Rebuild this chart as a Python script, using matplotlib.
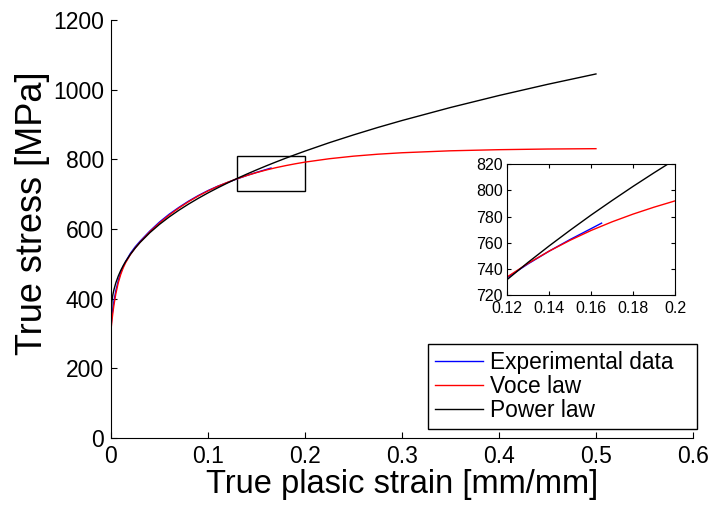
import matplotlib
matplotlib.use('Agg')
import matplotlib.pyplot as plt
from matplotlib.patches import Rectangle

plt.rcParams['font.family'] = ['Liberation Sans', 'DejaVu Sans']

# true plastic strain [mm/mm]
strain = [0, 0.001, 0.002, 0.003, 0.005, 0.0075, 0.01, 0.0125, 0.015, 0.02,
          0.025, 0.03, 0.04, 0.05, 0.06, 0.07, 0.08, 0.09, 0.10, 0.11,
          0.12, 0.13, 0.14, 0.15, 0.16, 0.17, 0.18, 0.19, 0.20, 0.225,
          0.25, 0.275, 0.30, 0.35, 0.40, 0.45, 0.50]

voce_stress = [310, 337.0, 360.4, 380.7, 414.1, 445.5, 469.1, 487.7, 502.7, 526.6,
               545.7, 562.4, 591.8, 617.2, 640.0, 660.3, 678.5, 694.8, 709.3, 722.3,
               733.9, 744.3, 753.6, 761.9, 769.4, 776.0, 781.9, 787.2, 792.0, 801.7,
               809.1, 814.7, 818.9, 824.5, 827.7, 829.6, 830.6]

power_stress = [339, 394.0, 412.1, 425.3, 445.5, 464.8, 480.6, 494.2, 506.3, 527.2,
                545.3, 561.3, 589.2, 613.3, 634.6, 653.9, 671.6, 688.1, 703.6, 718.1,
                731.9, 745.1, 757.6, 769.6, 781.2, 792.3, 803.1, 813.5, 823.6, 847.7,
                870.1, 891.4, 911.4, 948.8, 983.2, 1015.2, 1045.1]

exp_strain = [0, 0.001, 0.002, 0.003, 0.005, 0.0075, 0.01, 0.0125, 0.015, 0.02,
              0.025, 0.03, 0.04, 0.05, 0.06, 0.07, 0.08, 0.09, 0.10, 0.11,
              0.12, 0.13, 0.14, 0.15, 0.16, 0.165]
exp_stress = [318, 350, 372, 392, 423, 452, 474, 492, 506, 530,
              549, 565, 594, 620, 642.5, 662, 680, 696, 710.3, 722.8,
              733.4, 743.9, 753.6, 762.5, 770.8, 775.0]

labels = ['Experimental data', 'Voce law', 'Power law']
colors = ['blue', 'red', 'black']

main_xticks = [0, 0.1, 0.2, 0.3, 0.4, 0.5, 0.6]
main_xticklabels = ['0', '0.1', '0.2', '0.3', '0.4', '0.5', '0.6']
main_yticks = [0, 200, 400, 600, 800, 1000, 1200]
inset_xticks = [0.12, 0.14, 0.16, 0.18, 0.2]
inset_xticklabels = ['0.12', '0.14', '0.16', '0.18', '0.2']
inset_yticks = [720, 740, 760, 780, 800, 820]

zoom_box = (0.13, 710, 0.07, 100)


def draw_curves(ax):
    ax.plot(exp_strain, exp_stress, color=colors[0], lw=1.0, label=labels[0])
    ax.plot(strain, voce_stress, color=colors[1], lw=1.0, label=labels[1])
    ax.plot(strain, power_stress, color=colors[2], lw=1.0, label=labels[2])


def main():
    fig = plt.figure(figsize=(7.16, 5.09), dpi=100)
    ax = fig.add_axes([0.155, 0.1395, 0.8128, 0.8212])
    draw_curves(ax)

    ax.add_patch(Rectangle(zoom_box[:2], zoom_box[2], zoom_box[3],
                           fill=False, edgecolor='black', lw=1.0))

    ax.set_xlim(0, 0.6)
    ax.set_ylim(0, 1200)
    ax.set_xticks(main_xticks)
    ax.set_xticklabels(main_xticklabels)
    ax.set_yticks(main_yticks)
    ax.spines['top'].set_visible(False)
    ax.spines['right'].set_visible(False)
    ax.tick_params(direction='in', length=4, width=0.8, labelsize=16.5, pad=5)
    ax.set_xlabel('True plasic strain [mm/mm]', fontsize=23.5, labelpad=1)
    ax.set_ylabel('True stress [MPa]', fontsize=26)
    ax.yaxis.set_label_coords(-0.104, 0.538)

    leg = ax.legend(loc='lower left', bbox_to_anchor=(0.545, 0.0215, 0.462, 0.213),
                    mode='expand', borderaxespad=0, fontsize=16.4,
                    handlelength=2.1, handletextpad=0.3, labelspacing=0.05,
                    borderpad=0.3, fancybox=False, framealpha=1)
    leg.get_frame().set_edgecolor('black')
    leg.get_frame().set_linewidth(1.0)

    axin = fig.add_axes([0.7085, 0.4204, 0.2342, 0.2568])
    draw_curves(axin)
    axin.set_xlim(0.12, 0.2)
    axin.set_ylim(720, 820)
    axin.set_xticks(inset_xticks)
    axin.set_xticklabels(inset_xticklabels)
    axin.set_yticks(inset_yticks)
    axin.tick_params(direction='in', length=3, width=0.8, labelsize=11.5, pad=3,
                     top=True, right=True)
    axin.tick_params(axis='x', pad=4)

    fig.savefig('out.png', dpi=100)


if __name__ == '__main__':
    main()
